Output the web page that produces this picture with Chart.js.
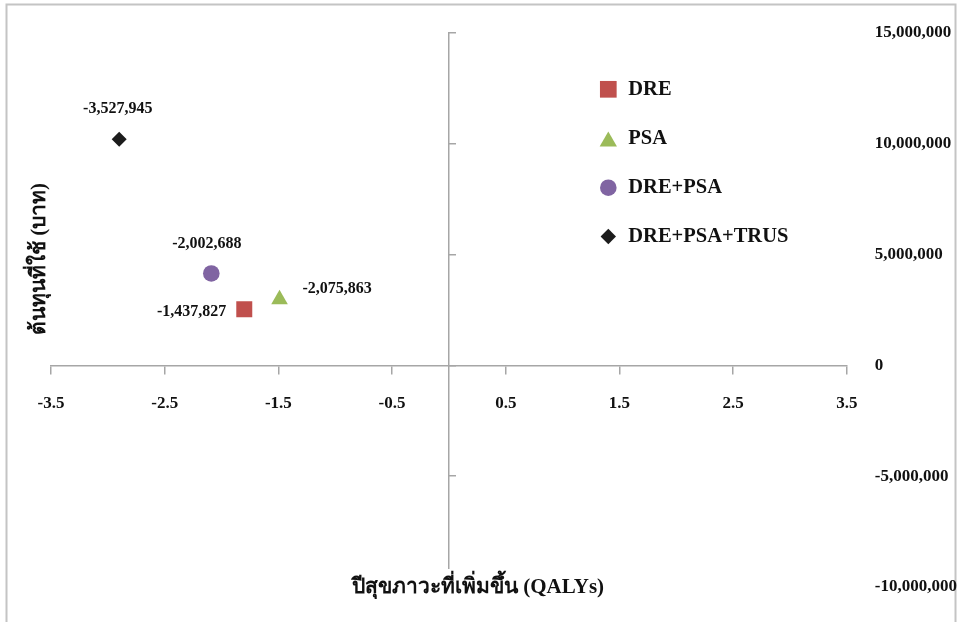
<!DOCTYPE html>
<html><head><meta charset="utf-8">
<script src="https://cdn.jsdelivr.net/npm/chart.js@4/dist/chart.umd.min.js"></script>
<style>html,body{margin:0;padding:0;background:#fff;overflow:hidden;}</style>
</head><body><canvas id="c" width="958" height="622"></canvas>
<script>
// ---- data ----
const seriesNames = ['DRE', 'PSA', 'DRE+PSA', 'DRE+PSA+TRUS'];
const qalyGain = [-1.80, -1.49, -2.09, -2.90];
const costIncrease = [2530000, 2980000, 4150000, 10200000];
const icerLabels = ['-1,437,827', '-2,075,863', '-2,002,688', '-3,527,945'];
const xTickValues = [-3.5, -2.5, -1.5, -0.5, 0.5, 1.5, 2.5, 3.5];
const xTickLabels = ['-3.5', '-2.5', '-1.5', '-0.5', '0.5', '1.5', '2.5', '3.5'];
const yTickValues = [-10000000, -5000000, 0, 5000000, 10000000, 15000000];
const yTickLabels = ['-10,000,000', '-5,000,000', '0', '5,000,000', '10,000,000', '15,000,000'];
const xTitle = 'ปีสุขภาวะที่เพิ่มขึ้น (QALYs)';
const yTitle = 'ต้นทุนที่ใช้ (บาท)';

// ---- styles ----
const colors = ['#C0504D', '#9BBB59', '#8064A2', '#1C1C1C'];
const shapes = ['rect', 'triangle', 'circle', 'rectRot'];
const radii = [11.3, 9.6, 8.3, 7.5];
const labelPlacement = [
  {align: 'right', dx: -18, dy: 2.5},
  {align: 'left', dx: 23, dy: -11},
  {align: 'center', dx: -4.5, dy: -30},
  {align: 'center', dx: -1.5, dy: -31}
];
const legendPos = {markerX: 608.3, textX: 628.3, ys: [89.3, 138.5, 187.7, 236.5], radii: [11.8, 10, 8.3, 7.7]};
const serif = '"Liberation Serif", "Times New Roman", serif';
const axisColor = '#A6A6A6';

const decorPlugin = {
  id: 'decor',
  beforeDraw(chart) {
    const ctx = chart.ctx;
    ctx.save();
    ctx.fillStyle = '#fff';
    ctx.fillRect(0, 0, chart.width, chart.height);
    ctx.strokeStyle = '#C4C4C4';
    ctx.lineWidth = 2;
    ctx.strokeRect(6.5, 4.5, 949, 700);
    ctx.restore();
  },
  afterDraw(chart) {
    const ctx = chart.ctx;
    ctx.save();
    // x title (covers bottom of y axis like the original)
    ctx.font = 'bold 21px ' + serif;
    const w = ctx.measureText(xTitle).width;
    const xc = 478, yc = 588;
    ctx.fillStyle = '#fff';
    ctx.fillRect(xc - w / 2 - 4, 569, w + 8, 30);
    ctx.fillStyle = '#111';
    ctx.textAlign = 'center';
    ctx.textBaseline = 'middle';
    ctx.fillText(xTitle, xc, yc);
    // y title
    ctx.save();
    ctx.translate(40, 259);
    ctx.rotate(-Math.PI / 2);
    ctx.fillText(yTitle, 0, 0);
    ctx.restore();
    // data labels
    ctx.font = 'bold 16px ' + serif;
    ctx.fillStyle = '#111';
    chart.data.datasets.forEach((ds, i) => {
      const pt = chart.getDatasetMeta(i).data[0];
      const p = labelPlacement[i];
      ctx.textAlign = p.align;
      ctx.fillText(icerLabels[i], pt.x + p.dx, pt.y + p.dy);
    });
    // legend
    ctx.font = 'bold 20.5px ' + serif;
    ctx.textAlign = 'left';
    seriesNames.forEach((name, i) => {
      const y = legendPos.ys[i];
      ctx.fillStyle = colors[i];
      ctx.strokeStyle = colors[i];
      Chart.helpers.drawPoint(ctx, {pointStyle: shapes[i], radius: legendPos.radii[i], borderWidth: 0, rotation: 0},
        legendPos.markerX, shapes[i] === 'triangle' ? y + 3 : y);
      ctx.fillStyle = '#111';
      ctx.fillText(name, legendPos.textX, y);
    });
    ctx.restore();
  }
};

new Chart(document.getElementById('c'), {
  type: 'scatter',
  data: {
    datasets: seriesNames.map((name, i) => ({
      label: name,
      data: [{x: qalyGain[i], y: costIncrease[i]}],
      pointStyle: shapes[i],
      pointRadius: radii[i],
      pointHoverRadius: radii[i],
      backgroundColor: colors[i],
      borderColor: colors[i],
      borderWidth: 0
    }))
  },
  options: {
    responsive: false,
    animation: false,
    layout: {padding: {left: 51, top: 33, bottom: 35, right: 1}},
    plugins: {legend: {display: false}, tooltip: {enabled: false}},
    scales: {
      x: {
        type: 'linear', min: -3.5, max: 3.5, position: {y: 0},
        afterBuildTicks: s => { s.ticks = xTickValues.map(v => ({value: v})); },
        grid: {drawOnChartArea: false, drawTicks: true, tickLength: 8, color: axisColor, lineWidth: 1.5},
        border: {color: axisColor, width: 1.5},
        ticks: {padding: 20, color: '#111', autoSkip: false, maxRotation: 0,
          font: {family: serif, weight: 'bold', size: 17},
          callback: (v, i) => xTickLabels[i]}
      },
      y: {
        type: 'linear', min: -10000000, max: 15000000, position: {x: 0},
        afterBuildTicks: s => { s.ticks = yTickValues.map(v => ({value: v})); },
        grid: {drawOnChartArea: false, drawTicks: true, tickLength: -8, color: axisColor, lineWidth: 1.5},
        border: {color: axisColor, width: 1.5},
        ticks: {display: false}
      },
      yR: {
        type: 'linear', min: -10000000, max: 15000000, position: 'right',
        afterBuildTicks: s => { s.ticks = yTickValues.map(v => ({value: v})); },
        grid: {display: false, drawTicks: true, tickLength: 28},
        border: {display: false},
        ticks: {padding: 0, color: '#111', font: {family: serif, weight: 'bold', size: 17},
          callback: (v, i) => yTickLabels[i]}
      }
    }
  },
  plugins: [decorPlugin]
});
</script>
</body></html>
